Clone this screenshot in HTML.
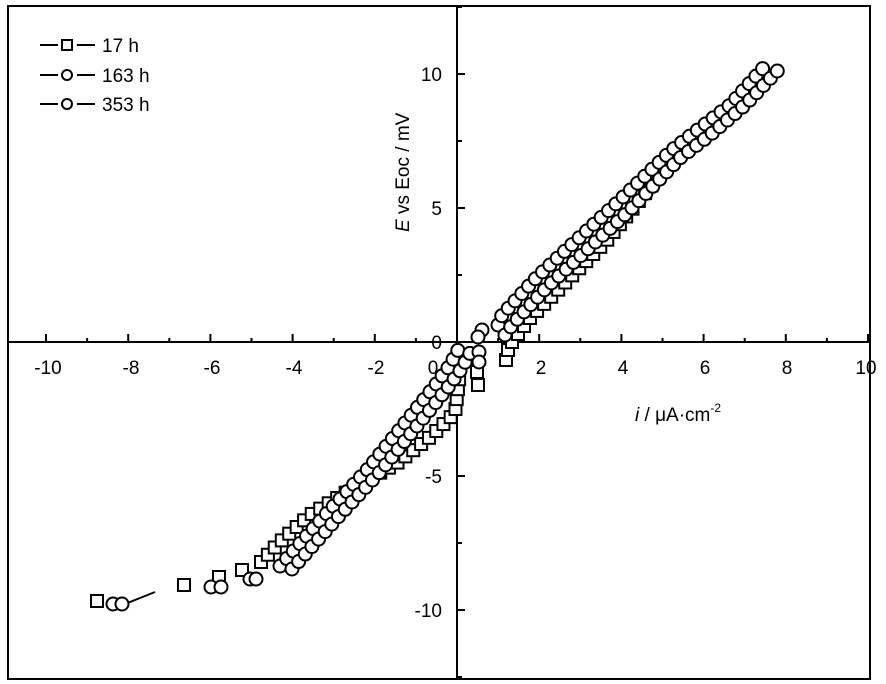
<!DOCTYPE html>
<html><head><meta charset="utf-8"><style>
body{margin:0;background:#fff}
svg{display:block}
text{font-family:"Liberation Sans",Arial,sans-serif;fill:#000}
</style></head><body>
<svg id="s" width="886" height="684" xmlns="http://www.w3.org/2000/svg">
<rect x="8" y="6" width="862" height="673" fill="none" stroke="#000" stroke-width="2"/>
<line x1="8" y1="342" x2="870" y2="342" stroke="#000" stroke-width="2"/>
<line x1="457" y1="6" x2="457" y2="679" stroke="#000" stroke-width="2"/>
<g id="ticks" stroke="#000" stroke-width="2"></g>
<g font-size="19" text-anchor="middle">
<text x="48" y="374">-10</text><text x="131" y="374">-8</text><text x="212" y="374">-6</text><text x="294" y="374">-4</text><text x="376" y="374">-2</text><text x="433" y="374">0</text><text x="541" y="374">2</text><text x="623" y="374">4</text><text x="705" y="374">6</text><text x="787" y="374">8</text><text x="866" y="374">10</text>
</g>
<g font-size="19" text-anchor="end">
<text x="442" y="81">10</text><text x="442" y="215">5</text><text x="442" y="349">0</text><text x="442" y="483">-5</text><text x="442" y="617">-10</text>
</g>
<text transform="translate(409,232) rotate(-90)" font-size="19"><tspan font-style="italic">E</tspan> vs Eoc / mV</text>
<text x="635" y="421" font-size="19"><tspan font-style="italic">i</tspan> / μA·cm<tspan font-size="12" dy="-9">-2</tspan></text>
<g font-size="19">
<line x1="40" y1="45" x2="58" y2="45" stroke="#000" stroke-width="2"/><rect x="62" y="40" width="10" height="10" fill="none" stroke="#000" stroke-width="2"/><line x1="77" y1="45" x2="95" y2="45" stroke="#000" stroke-width="2"/><text x="102" y="52">17 h</text>
<line x1="40" y1="75" x2="58" y2="75" stroke="#000" stroke-width="2"/><circle cx="67" cy="75" r="5" fill="none" stroke="#000" stroke-width="2"/><line x1="77" y1="75" x2="95" y2="75" stroke="#000" stroke-width="2"/><text x="102" y="82">163 h</text>
<line x1="40" y1="104" x2="58" y2="104" stroke="#000" stroke-width="2"/><circle cx="67" cy="104" r="5" fill="none" stroke="#000" stroke-width="2"/><line x1="77" y1="104" x2="95" y2="104" stroke="#000" stroke-width="2"/><text x="102" y="111">353 h</text>
</g>
<line x1="125" y1="604" x2="155" y2="592" stroke="#000" stroke-width="2"/>
<g id="m" fill="#fff" stroke="#000" stroke-width="2"></g>
</svg>
<script>
var NS="http://www.w3.org/2000/svg";
var T=document.getElementById("ticks"),M=document.getElementById("m");
function el(p,t,a){var e=document.createElementNS(NS,t);for(var k in a)e.setAttribute(k,a[k]);p.appendChild(e);}
for(var i=-10;i<=10;i++){var x=457+i*41.1;if(i==0)continue;el(T,"line",{x1:x,y1:342,x2:x,y2:i%2==0?334:338});}
for(var j=-12.5;j<=12.5;j+=2.5){if(j==0)continue;var y=342-j*26.8;el(T,"line",{x1:457,y1:y,x2:Math.abs(j)%5==0?465:462,y2:y});}
function sq(x,y){el(M,"rect",{x:x-6,y:y-6,width:12,height:12});}
function ci(x,y){el(M,"circle",{cx:x,cy:y,r:6.5});}
function path(pts,f,step,dx,dy){dx=dx||0;dy=dy||0;var carry=0;f(pts[0][0]+dx,pts[0][1]+dy);
for(var i=1;i<pts.length;i++){var a=pts[i-1],b=pts[i],L=Math.hypot(b[0]-a[0],b[1]-a[1]);var d=step-carry;
while(d<=L){var t=d/L;f(a[0]+(b[0]-a[0])*t+dx,a[1]+(b[1]-a[1])*t+dy);d+=step;}carry=L-(d-step);}}
// squares
[[97,601],[184,585],[219,577],[242,570]].forEach(function(p){sq(p[0],p[1]);});
path([[261,562],[280,542],[310,515],[350,490],[397,463],[430,437],[455,413],[460,372]],sq,10);
[[477,372],[478,385],[506,360],[508,350]].forEach(function(p){sq(p[0],p[1]);});
path([[512,342],[530,318],[548,300],[607,240],[642,197],[680,150]],sq,10);
// circles
[[113,604],[122,604],[211,587],[221,587],[250,579],[256,579]].forEach(function(p){ci(p[0],p[1]);});
var lowA=[[280,566],[327,513],[367,470],[413,413],[437,383],[450,365],[458,350]];
path(lowA,ci,10);path(lowA,ci,10,12,3);
[[482,330],[478,337],[479,352],[479,362]].forEach(function(p){ci(p[0],p[1]);});
var upA=[[498,325],[502,315],[537,277],[580,237],[620,200],[672,150],[700,128],[730,105],[765,66]];
path(upA,ci,10);path([[505,335],[512,325],[547,287],[590,247],[630,210],[680,158],[710,135],[745,105],[782,66]],ci,10);
</script>
</body></html>
